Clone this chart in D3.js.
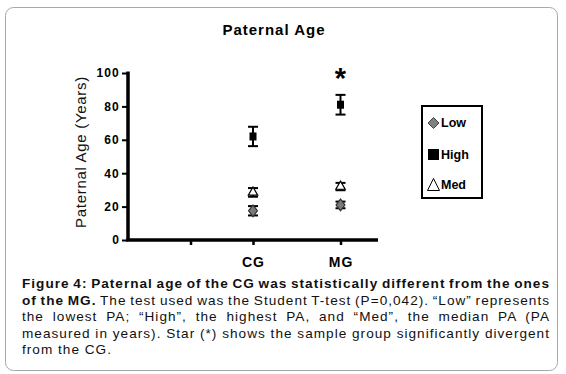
<!DOCTYPE html>
<html>
<head>
<meta charset="utf-8">
<script src="https://cdn.jsdelivr.net/npm/d3@7"></script>
<style>
  body { margin: 0; background: #fff; }
  text { font-family: "Liberation Sans", Arial, sans-serif; }
</style>
</head>
<body>
<svg width="566" height="374"></svg>
<script>

let xTicks = [1, 2, 3.4];
let xTickLabels = ['', 'CG', 'MG'];
let groups = ['CG', 'MG'];
let groupPos = [2, 3.4];

let lowMean = [17.5, 21];
let lowErr = [2.8, 2];
let highMean = [62, 81];
let highErr = [5.8, 5.9];
let medMean = [28.5, 32];
let medErr = [2.6, 2.2];

let starGroup = 'MG';
let starValue = 99;

let yTicks = [0, 20, 40, 60, 80, 100];

let captionLines = [
  [['Figure 4: Paternal age of the CG was statistically different from the ones', true]],
  [['of the MG.', true], [' The test used was the Student T-test (P=0,042). \u201cLow\u201d represents', false]],
  [['the lowest PA; \u201cHigh\u201d, the highest PA, and \u201cMed\u201d, the median PA (PA', false]],
  [['measured in years). Star (*) shows the sample group significantly divergent', false]],
  [['from the CG.', false]]
];

let svg = d3.select('svg');

svg.append('rect')
   .attr('x', 5.5).attr('y', 7.5)
   .attr('width', 552).attr('height', 363)
   .attr('rx', 8)
   .attr('fill', 'white')
   .attr('stroke', '#a8a8a8');

let xScale = d3.scaleLinear()
               .domain([0, 4])
               .range([128, 378]);

let yScale = d3.scaleLinear()
               .domain([0, 100])
               .range([240, 73]);

// title
svg.append('text')
   .attr('x', 274).attr('y', 35)
   .attr('text-anchor', 'middle')
   .style('font-size', '15px')
   .style('font-weight', 'bold')
   .style('letter-spacing', '1px')
   .text('Paternal Age');

// y axis
let yAxis = d3.axisLeft(yScale)
              .tickValues(yTicks)
              .tickSize(6)
              .tickPadding(2);

let yG = svg.append('g')
   .attr('transform', 'translate(128,0)')
   .call(yAxis);
yG.select('.domain').attr('stroke-width', 3.5).attr('d', 'M0,' + (yScale(100) - 1.5) + 'V' + yScale(0));
yG.selectAll('.tick line').attr('stroke-width', 2);
yG.selectAll('.tick text')
  .style('font-family', '"Liberation Sans", Arial, sans-serif')
  .style('font-size', '12px')
  .style('font-weight', 'bold')
  .style('letter-spacing', '1.2px');

// x axis
let xAxis = d3.axisBottom(xScale)
              .tickValues(xTicks)
              .tickFormat(function(d, i) { return xTickLabels[i]; })
              .tickSize(5)
              .tickPadding(12);

let xG = svg.append('g')
   .attr('transform', 'translate(0,' + yScale(0) + ')')
   .call(xAxis);
xG.select('.domain').attr('stroke-width', 3.5).attr('d', 'M126.25,0H378');
xG.selectAll('.tick line').attr('stroke-width', 2.5);
xG.selectAll('.tick text')
  .style('font-family', '"Liberation Sans", Arial, sans-serif')
  .style('font-size', '14px')
  .style('font-weight', 'bold')
  .style('letter-spacing', '1px');

// y axis title
svg.append('text')
   .attr('transform', 'translate(86,152) rotate(-90)')
   .attr('text-anchor', 'middle')
   .style('font-size', '15px')
   .style('letter-spacing', '0.7px')
   .style('fill', '#111')
   .text('Paternal Age (Years)');

// error bars
function drawErr(mean, err, cls) {
  let g = svg.selectAll('g.' + cls)
    .data(groups)
    .enter()
    .append('g')
    .attr('class', cls);
  g.append('line')
   .attr('x1', function(d, i) { return xScale(groupPos[i]); })
   .attr('x2', function(d, i) { return xScale(groupPos[i]); })
   .attr('y1', function(d, i) { return yScale(mean[i] + err[i]); })
   .attr('y2', function(d, i) { return yScale(mean[i] - err[i]); })
   .attr('stroke', 'black').attr('stroke-width', 2);
  [1, -1].forEach(function(s) {
    g.append('line')
     .attr('x1', function(d, i) { return xScale(groupPos[i]) - 5; })
     .attr('x2', function(d, i) { return xScale(groupPos[i]) + 5; })
     .attr('y1', function(d, i) { return yScale(mean[i] + s * err[i]); })
     .attr('y2', function(d, i) { return yScale(mean[i] + s * err[i]); })
     .attr('stroke', 'black').attr('stroke-width', 2);
  });
}

drawErr(lowMean, lowErr, 'errLow');
drawErr(highMean, highErr, 'errHigh');
drawErr(medMean, medErr, 'errMed');

// markers
svg.selectAll('path.low')
   .data(groups)
   .enter()
   .append('path')
   .attr('class', 'low')
   .attr('d', d3.symbol().type(d3.symbolDiamond).size(40))
   .attr('transform', function(d, i) {
     return 'translate(' + xScale(groupPos[i]) + ',' + yScale(lowMean[i]) + ') scale(1.3,1)';
   })
   .attr('fill', '#7a7a7a')
   .attr('stroke', '#333')
   .attr('stroke-width', 1);

svg.selectAll('rect.high')
   .data(groups)
   .enter()
   .append('rect')
   .attr('class', 'high')
   .attr('x', function(d, i) { return xScale(groupPos[i]) - 3.5; })
   .attr('y', function(d, i) { return yScale(highMean[i]) - 4; })
   .attr('width', 7)
   .attr('height', 8)
   .attr('fill', 'black');

svg.selectAll('path.med')
   .data(groups)
   .enter()
   .append('path')
   .attr('class', 'med')
   .attr('d', d3.symbol().type(d3.symbolTriangle).size(38))
   .attr('transform', function(d, i) {
     return 'translate(' + xScale(groupPos[i]) + ',' + yScale(medMean[i]) + ')';
   })
   .attr('fill', 'white')
   .attr('stroke', 'black')
   .attr('stroke-width', 1.2);

// significance star
svg.append('text')
   .attr('x', xScale(groupPos[groups.indexOf(starGroup)]))
   .attr('y', yScale(starValue) + 13)
   .attr('text-anchor', 'middle')
   .style('font-size', '29px')
   .style('font-weight', 'bold')
   .text('*');

// legend
let legend = svg.append('g');
legend.append('rect')
      .attr('x', 422).attr('y', 106)
      .attr('width', 60).attr('height', 92)
      .attr('fill', 'white')
      .attr('stroke', 'black')
      .attr('stroke-width', 2);

legend.append('path')
      .attr('d', 'M428,123L433.5,117.5L439,123L433.5,128.5Z')
      .attr('fill', '#808080')
      .attr('stroke', '#444');
legend.append('rect')
      .attr('x', 428).attr('y', 149)
      .attr('width', 11).attr('height', 11)
      .attr('fill', 'black');
legend.append('path')
      .attr('d', 'M427.5,190.5L433.5,178.5L439.5,190.5Z')
      .attr('fill', 'white')
      .attr('stroke', 'black')
      .attr('stroke-width', 1);

let legendLabels = ['Low', 'High', 'Med'];
legend.selectAll('text')
      .data(legendLabels)
      .enter()
      .append('text')
      .attr('x', 441)
      .attr('y', function(d, i) { return [127, 159, 189][i]; })
      .style('font-size', '12.5px')
      .style('font-weight', 'bold')
      .text(function(d) { return d; });

// caption: letter spacing set so the 4th line fills the width,
// other lines justified by word spacing
let capLeft = 22, capRight = 550;
let cap = svg.append('g');
let texts = captionLines.map(function(parts, li) {
  let t = cap.append('text')
     .attr('x', capLeft)
     .attr('y', 288 + li * 16.5)
     .style('font-size', '13.6px')
     .style('fill', '#111');
  parts.forEach(function(p) {
    t.append('tspan')
     .style('font-weight', p[1] ? 'bold' : 'normal')
     .text(p[0]);
  });
  return t;
});
let line4 = captionLines[3][0][0];
let ls = (capRight - capLeft - texts[3].node().getComputedTextLength()) / line4.length;
texts.forEach(function(t) { t.style('letter-spacing', ls + 'px'); });
texts.forEach(function(t, li) {
  if (li === texts.length - 1) return;
  let len = t.node().getComputedTextLength();
  let str = captionLines[li].map(function(p) { return p[0]; }).join('');
  let spaces = (str.match(/ /g) || []).length;
  t.style('word-spacing', ((capRight - capLeft - len) / spaces) + 'px');
});

</script>
</body>
</html>
